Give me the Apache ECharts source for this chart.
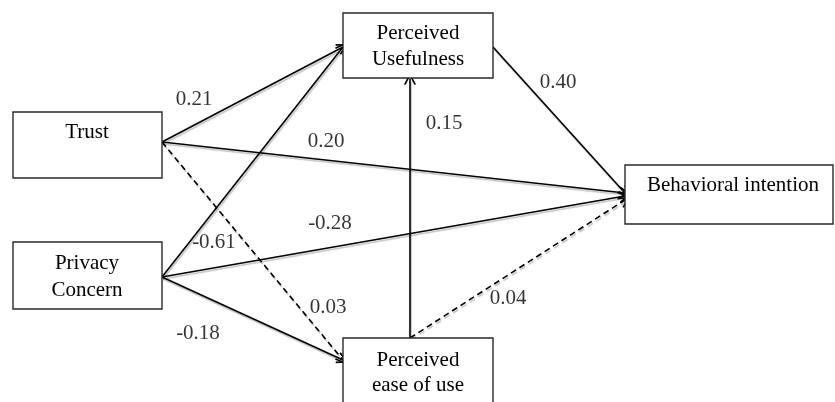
<!DOCTYPE html>
<html>
<head>
<meta charset="utf-8">
<script src="https://cdn.jsdelivr.net/npm/echarts@6/dist/echarts.min.js"></script>
<style>
html,body{margin:0;padding:0;background:#fff;}
#main{width:835px;height:402px;}
</style>
</head>
<body>
<div id="main"></div>
<script>
// ---- data ----
const nodeNames = ['Trust', 'Privacy\nConcern', 'Perceived\nUsefulness', 'Perceived\nease of use', 'Behavioral intention'];
const pathFrom  = ['Trust', 'Trust', 'Trust', 'Privacy\nConcern', 'Privacy\nConcern', 'Privacy\nConcern', 'Perceived\nease of use', 'Perceived\nUsefulness', 'Perceived\nease of use'];
const pathTo    = ['Perceived\nUsefulness', 'Behavioral intention', 'Perceived\nease of use', 'Perceived\nUsefulness', 'Behavioral intention', 'Perceived\nease of use', 'Perceived\nUsefulness', 'Behavioral intention', 'Behavioral intention'];
const pathCoef  = [0.21, 0.20, 0.03, -0.61, -0.28, -0.18, 0.15, 0.40, 0.04];
const pathDashed = [false, false, true, false, false, false, false, false, true];

// ---- layout (pixel space of the canvas) ----
const nodeBox = [[13,112,162,178],[13,242,162,309],[343,13,493,78],[343,338,493,430],[625,165,833,224]];
const nodeText = [[87,132,26],[87,276.5,27],[418,46,26],[418,372.5,25],[733,185,26]];
const pathStart = [[162,142],[162,142],[162,142],[162,277],[162,277],[162,277],[410,338],[493,47],[410,338]];
const pathEnd   = [[343,47],[625,193],[343,360],[343,47],[625,196],[343,360],[410,79],[625,193],[625,200]];
const labelPos  = [[194,99],[326,141],[328,307],[214,242],[330,223],[198,333],[444,123],[558,82],[508,298]];

const FONT = '"Liberation Serif","Times New Roman",serif';
const chart = echarts.init(document.getElementById('main'));

const arrowPath = 'path://M5,0 L10,10 L8.7,10.7 L5,2.8 L1.3,10.7 L0,10 Z';

function mkLines(dashed) {
  const data = [];
  pathCoef.forEach((v, i) => {
    if (pathDashed[i] === dashed) data.push({ coords: [pathStart[i], pathEnd[i]], name: pathFrom[i] + '->' + pathTo[i] });
  });
  return {
    type: 'lines', coordinateSystem: 'cartesian2d', silent: true, z: 2,
    symbol: ['none', arrowPath], symbolSize: [9, 12],
    lineStyle: { color: '#000', width: 1.6, type: dashed ? [6, 4] : 'solid', opacity: 1,
      shadowColor: 'rgba(0,0,0,0.25)', shadowOffsetX: 1, shadowOffsetY: 2, shadowBlur: 1 },
    data
  };
}

const option = {
  animation: false,
  backgroundColor: '#fff',
  grid: { left: 0, right: 0, top: 0, bottom: 0 },
  xAxis: { type: 'value', min: 0, max: 835, show: false },
  yAxis: { type: 'value', min: 0, max: 402, inverse: true, show: false },
  series: [
    mkLines(false),
    mkLines(true),
    {
      type: 'custom', coordinateSystem: 'cartesian2d', z: 5, silent: true,
      data: nodeNames.map((n, i) => ({ name: n, value: nodeBox[i].concat(nodeText[i]) })),
      renderItem: function (params, api) {
        const i = params.dataIndex;
        const p1 = api.coord([api.value(0), api.value(1)]);
        const p2 = api.coord([api.value(2), api.value(3)]);
        const t = api.coord([api.value(4), api.value(5)]);
        return {
          type: 'group',
          children: [
            { type: 'rect', shape: { x: p1[0], y: p1[1], width: p2[0] - p1[0], height: p2[1] - p1[1] },
              style: { fill: '#fff', stroke: '#2a2a2a', lineWidth: 1.4 } },
            { type: 'text', x: t[0], y: t[1],
              style: { text: nodeNames[i], fill: '#000', font: '21px ' + FONT, align: 'center', verticalAlign: 'middle', lineHeight: api.value(6) } }
          ]
        };
      }
    },
    {
      type: 'scatter', z: 6, silent: true, symbolSize: 1,
      itemStyle: { color: 'transparent' },
      data: pathCoef.map((v, i) => ({ value: labelPos[i], name: v.toFixed(2) })),
      label: { show: true, position: 'inside', formatter: p => p.name, color: '#000', textBorderWidth: 0, fontFamily: FONT, fontSize: 21 }
    }
  ]
};
chart.setOption(option);
</script>
</body>
</html>
